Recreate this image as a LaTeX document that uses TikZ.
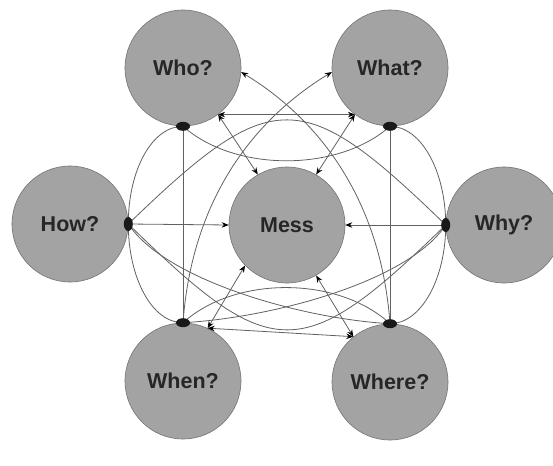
\documentclass[tikz,border=0pt]{standalone}
\usepackage{fontspec}
\setmainfont{Liberation Sans}
\usetikzlibrary{arrows.meta}
\begin{document}
\begin{tikzpicture}[x=1pt,y=-1pt,
  q/.style={circle, draw=black!55, line width=0.6pt, fill=black!36, minimum size=116pt, inner sep=0pt,
    font=\fontsize{21.5}{24}\selectfont\bfseries, text=black!85},
  ln/.style={draw=black!62, line width=0.8pt},
  tp/.style={-{Stealth[length=7pt,width=5.5pt,black]}},
  bt/.style={{Stealth[length=7pt,width=5.5pt,black]}-{Stealth[length=7pt,width=5.5pt,black]}},
  hubv/.style={fill=black!90},
]
\useasboundingbox (0,0) rectangle (553,465);
\node[q] (who)   at (183,68)  {Who?};
\node[q] (what)  at (390,68)  {What?};
\node[q] (how)   at (70,224)  {How?};
\node[q] (mess)  at (287,225) {Mess};
\node[q] (why)   at (504,225) {Why?};
\node[q] (when)  at (183,381) {When?};
\node[q] (where) at (390,382) {Where?};
\coordinate (hwho) at (who.south);
\coordinate (hwhat) at (what.south);
\coordinate (hhow) at (how.east);
\coordinate (hwhy) at (why.west);
\coordinate (hwhen) at (when.north);
\coordinate (hwhere) at (where.north);
% to Mess
\draw[ln,tp] (hhow) -- (mess.west);
\draw[ln,tp] (hwhy) -- (mess.east);
\draw[ln,bt] (who.-53) -- (mess.120);
\draw[ln,bt] (what.-127) -- (mess.60);
\draw[ln,bt] (when.65) -- (mess.224);
\draw[ln,bt] (where.129) -- (mess.300);
% flat links
\draw[ln,bt] (who.-53) -- (what.-127);
\draw[ln,bt] (when.65) -- (where.129);
% verticals
\draw[ln] (hwho) -- (hwhen);
\draw[ln] (hwhat) -- (hwhere);
% ring round Mess
\draw[ln] (hwho) .. controls +(-31,0) and +(0,-54) .. (hhow);
\draw[ln] (hhow) .. controls +(0,54) and +(-31,0) .. (hwhen);
\draw[ln] (hwhat) .. controls +(31,0) and +(0,-54) .. (hwhy);
\draw[ln] (hwhy) .. controls +(0,54) and +(31,0) .. (hwhere);
\draw[ln] (hwho) .. controls +(52,46) and +(-52,46) .. (hwhat);
\draw[ln] (hwhen) .. controls +(52,-47) and +(-52,-48) .. (hwhere);
% How--Why arcs
\draw[ln] (hhow) .. controls +(144,-139) and +(-144,-140) .. (hwhy);
\draw[ln] (hhow) .. controls +(144,141) and +(-144,140) .. (hwhy);
% lower crossing curves
\draw[ln] (hhow) .. controls +(37,56) and +(-89,-5) .. (hwhere);
\draw[ln] (hwhy) .. controls +(-37,56) and +(91,-5) .. (hwhen);
% upper crossing curves
\draw[ln,tp] (hwhere) .. controls +(-9,-123) and +(79,48) .. (who.-4);
\draw[ln,tp] (hwhen) .. controls +(9,-123) and +(-79,48) .. (what.184);
% hubs
\fill[hubv] (hwho) ellipse (7 and 4.5);
\fill[hubv] (hwhat) ellipse (7 and 4.5);
\fill[hubv] (hwhen) ellipse (7 and 4.5);
\fill[hubv] (hwhere) ellipse (7 and 4.5);
\fill[hubv] (hhow) ellipse (4.5 and 7);
\fill[hubv] (hwhy) ellipse (4.5 and 7);
\end{tikzpicture}
\end{document}
